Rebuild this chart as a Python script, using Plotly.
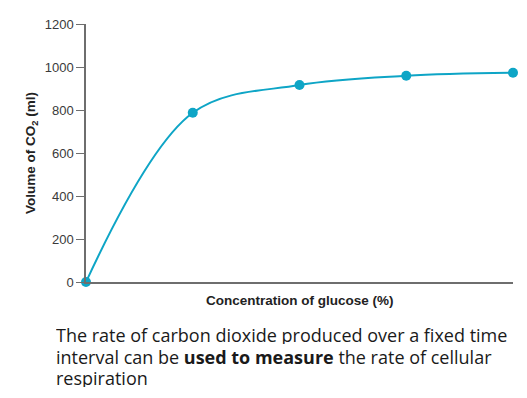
import plotly.graph_objects as go

concentration = [0, 1, 2, 3, 4]
co2_volume = [0, 787, 916, 959, 973]
y_ticks = [0, 200, 400, 600, 800, 1000, 1200]

x_title = "Concentration of glucose (%)"
y_title = "Volume of CO<sub>2</sub> (ml)"
caption_lines = [
    "The rate of carbon dioxide produced over a fixed time",
    "interval can be <b>used to measure</b> the rate of cellular",
    "respiration",
]

W, H = 527, 398
L, R, T, B = 86, 14, 24, 116
pw, ph = W - L - R, H - T - B

fig = go.Figure()
fig.add_trace(go.Scatter(
    x=concentration, y=co2_volume, mode="lines+markers",
    line=dict(color="#0ea5c6", width=2, shape="spline", smoothing=1.0),
    marker=dict(color="#0ea5c6", size=10),
    cliponaxis=False, showlegend=False, hoverinfo="skip",
))

axis_font = dict(family="Liberation Sans, Arial, sans-serif", size=13, color="#3a3a3a")

fig.update_layout(
    width=W, height=H,
    margin=dict(l=L, r=R, t=T, b=B),
    paper_bgcolor="white", plot_bgcolor="white",
    font=axis_font,
    xaxis=dict(
        range=[0, 4], showgrid=False, zeroline=False,
        showline=True, linecolor="#6e6e6e", linewidth=1.5,
        showticklabels=False, ticks="",
        fixedrange=True,
    ),
    yaxis=dict(
        range=[0, 1200], tickvals=y_ticks, showgrid=False, zeroline=False,
        showline=True, linecolor="#6e6e6e", linewidth=1.5,
        ticks="outside", ticklen=8, tickcolor="#6e6e6e", tickwidth=1.2,
        tickfont=axis_font, fixedrange=True,
    ),
)

title_font = dict(family="Liberation Sans, Arial, sans-serif", size=13.5, color="#222")
fig.add_annotation(
    text="<b>" + x_title + "</b>", xref="paper", yref="paper",
    x=(300 - L) / pw, y=(T + ph - 300) / ph, xanchor="center", yanchor="middle",
    showarrow=False, font=title_font,
)
fig.add_annotation(
    text="<b>" + y_title + "</b>", xref="paper", yref="paper",
    x=(31 - L) / pw, y=0.5, xanchor="center", yanchor="middle", textangle=-90,
    showarrow=False, font=title_font,
)
caption_font = dict(family="Open Sans, Noto Sans, sans-serif", size=18, color="#1a1a1a")
for i, line in enumerate(caption_lines):
    cy = 334.5 + 21.6 * i
    fig.add_annotation(
        text=line, xref="paper", yref="paper",
        x=(55 - L) / pw, y=(T + ph - cy) / ph, xanchor="left", yanchor="middle",
        align="left", valign="middle", height=19, borderpad=0,
        showarrow=False, font=caption_font,
    )

fig.write_html("out.html", config={"displayModeBar": False},
               post_script="document.body.style.margin='0';")
